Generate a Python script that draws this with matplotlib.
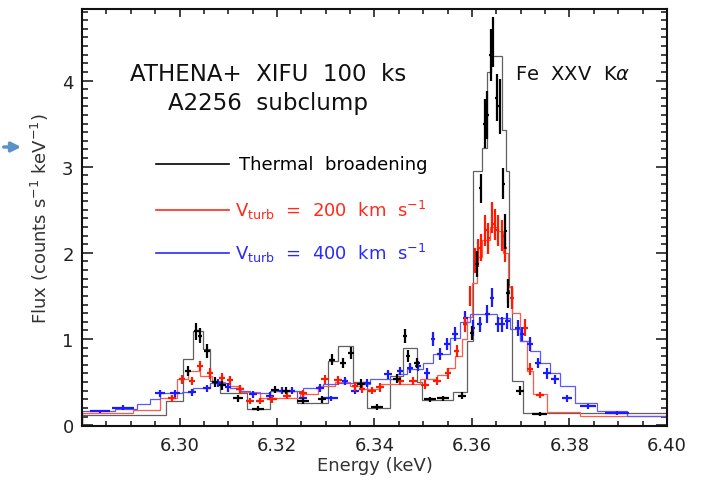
import matplotlib
matplotlib.use("Agg")
import matplotlib.pyplot as plt

plt.rcParams['font.family'] = ['DejaVu Sans']
plt.rcParams['mathtext.fontset'] = 'dejavusans'

# ---------------- model spectra (step histograms) ----------------
thermal_edges = [6.2800, 6.2972, 6.3007, 6.3028, 6.3048, 6.3063, 6.3083, 6.3138, 6.3186, 6.3241,
                 6.3305, 6.3325, 6.3356, 6.3385, 6.3432, 6.3458, 6.3487, 6.3497, 6.3561, 6.3590,
                 6.3602, 6.3621, 6.3631, 6.3639, 6.3662, 6.3670, 6.3676, 6.3682, 6.3705, 6.4000]
thermal_model = [0.12, 0.28, 0.77, 1.09, 0.88, 0.51, 0.37, 0.19, 0.40, 0.26,
                 0.74, 0.92, 0.50, 0.20, 0.57, 0.90, 0.50, 0.29, 0.38, 0.98,
                 2.95, 3.22, 4.10, 4.28, 3.42, 2.95, 1.60, 0.51, 0.14]

v200_edges = [6.2800, 6.2905, 6.2960, 6.2995, 6.3017, 6.3042, 6.3067, 6.3093, 6.3124, 6.3165,
              6.3247, 6.3284, 6.3319, 6.3350, 6.3374, 6.3411, 6.3493, 6.3528, 6.3549, 6.3565,
              6.3579, 6.3590, 6.3600, 6.3610, 6.3621, 6.3637, 6.3653, 6.3664, 6.3674, 6.3682,
              6.3698, 6.3713, 6.3725, 6.3754, 6.3822, 6.4000]
v200_model = [0.14, 0.18, 0.31, 0.53, 0.63, 0.57, 0.50, 0.45, 0.38, 0.31,
              0.36, 0.45, 0.50, 0.45, 0.42, 0.48, 0.53, 0.58, 0.66, 0.80,
              1.00, 1.25, 1.65, 1.95, 2.15, 2.30, 2.25, 2.00, 1.60, 1.30,
              0.98, 0.63, 0.36, 0.15, 0.11]

v400_edges = [6.2800, 6.2868, 6.2913, 6.2939, 6.2960, 6.3005, 6.3028, 6.3063, 6.3104, 6.3124,
              6.3145, 6.3186, 6.3253, 6.3294, 6.3323, 6.3364, 6.3391, 6.3446, 6.3467, 6.3499,
              6.3520, 6.3555, 6.3575, 6.3596, 6.3651, 6.3678, 6.3698, 6.3719, 6.3739, 6.3760,
              6.3781, 6.3811, 6.3856, 6.3918, 6.4000]
v400_model = [0.16, 0.19, 0.24, 0.30, 0.37, 0.39, 0.43, 0.49, 0.43, 0.40,
              0.37, 0.40, 0.43, 0.48, 0.49, 0.48, 0.53, 0.59, 0.65, 0.72,
              0.83, 1.01, 1.20, 1.29, 1.24, 1.12, 0.98, 0.86, 0.72, 0.60,
              0.45, 0.26, 0.16, 0.11]

# ---------------- simulated data points ----------------
thermal_x = [6.3017, 6.3034, 6.3042, 6.3056, 6.3072, 6.3088, 6.3120, 6.3161, 6.3196, 6.3218,
             6.3253, 6.3292, 6.3313, 6.3335, 6.3351, 6.3372, 6.3405, 6.3446, 6.3463, 6.3469,
             6.3487, 6.3514, 6.3541, 6.3579, 6.3600, 6.3610, 6.3618, 6.3626, 6.3631, 6.3638,
             6.3643, 6.3651, 6.3657, 6.3664, 6.3668, 6.3674, 6.3698, 6.3739]
thermal_xerr = [0.0006, 0.0005, 0.0004, 0.0006, 0.0006, 0.0008, 0.0010, 0.0012, 0.0008, 0.0008,
                0.0012, 0.0008, 0.0006, 0.0006, 0.0006, 0.0008, 0.0012, 0.0008, 0.0004, 0.0004,
                0.0006, 0.0012, 0.0012, 0.0008, 0.0004, 0.0004, 0.0003, 0.0003, 0.0003, 0.0003,
                0.0003, 0.0003, 0.0003, 0.0003, 0.0003, 0.0004, 0.0008, 0.0015]
thermal_y = [0.63, 1.09, 1.04, 0.86, 0.50, 0.46, 0.31, 0.19, 0.41, 0.40,
             0.28, 0.30, 0.76, 0.72, 0.84, 0.48, 0.21, 0.54, 1.03, 0.80,
             0.72, 0.30, 0.31, 0.34, 1.07, 1.87, 2.75, 3.50, 3.60, 4.30,
             4.45, 3.80, 3.70, 2.80, 2.25, 1.53, 0.40, 0.13]
thermal_yerr = [0.06, 0.10, 0.09, 0.08, 0.06, 0.05, 0.04, 0.03, 0.04, 0.04,
                0.03, 0.04, 0.06, 0.06, 0.07, 0.05, 0.03, 0.05, 0.08, 0.07,
                0.06, 0.03, 0.03, 0.04, 0.08, 0.15, 0.17, 0.28, 0.28, 0.30,
                0.29, 0.27, 0.32, 0.18, 0.20, 0.17, 0.05, 0.02]

v200_x = [6.2985, 6.3005, 6.3025, 6.3042, 6.3063, 6.3087, 6.3104, 6.3124, 6.3145, 6.3165,
          6.3190, 6.3221, 6.3253, 6.3298, 6.3325, 6.3360, 6.3374, 6.3395, 6.3411, 6.3452,
          6.3479, 6.3504, 6.3528, 6.3551, 6.3569, 6.3586, 6.3596, 6.3606, 6.3612, 6.3618,
          6.3627, 6.3633, 6.3641, 6.3647, 6.3653, 6.3662, 6.3668, 6.3674, 6.3682, 6.3709,
          6.3719, 6.3739]
v200_xerr = [0.0008, 0.0006, 0.0006, 0.0006, 0.0006, 0.0006, 0.0006, 0.0008, 0.0008, 0.0008,
             0.0010, 0.0008, 0.0008, 0.0008, 0.0008, 0.0006, 0.0006, 0.0008, 0.0008, 0.0008,
             0.0008, 0.0008, 0.0008, 0.0006, 0.0005, 0.0004, 0.0003, 0.0003, 0.0003, 0.0003,
             0.0003, 0.0003, 0.0003, 0.0003, 0.0003, 0.0003, 0.0003, 0.0003, 0.0004, 0.0005,
             0.0006, 0.0008]
v200_y = [0.31, 0.53, 0.51, 0.69, 0.60, 0.55, 0.52, 0.42, 0.28, 0.28,
          0.30, 0.34, 0.37, 0.53, 0.52, 0.45, 0.42, 0.40, 0.44, 0.51,
          0.51, 0.47, 0.51, 0.60, 0.86, 1.17, 1.50, 1.91, 2.00, 2.06,
          2.26, 2.17, 2.41, 2.33, 2.26, 2.20, 2.06, 1.56, 1.48, 1.13,
          0.65, 0.35]
v200_yerr = [0.04, 0.05, 0.05, 0.06, 0.06, 0.05, 0.05, 0.05, 0.04, 0.04,
             0.04, 0.04, 0.04, 0.05, 0.05, 0.05, 0.05, 0.04, 0.05, 0.05,
             0.05, 0.05, 0.05, 0.06, 0.07, 0.09, 0.12, 0.15, 0.16, 0.16,
             0.18, 0.18, 0.18, 0.18, 0.18, 0.18, 0.17, 0.14, 0.13, 0.10,
             0.07, 0.04]

v400_x = [6.2837, 6.2884, 6.2960, 6.2991, 6.3026, 6.3056, 6.3079, 6.3099, 6.3124, 6.3151,
          6.3186, 6.3210, 6.3231, 6.3253, 6.3288, 6.3310, 6.3339, 6.3360, 6.3385, 6.3428,
          6.3452, 6.3473, 6.3489, 6.3508, 6.3520, 6.3534, 6.3549, 6.3565, 6.3586, 6.3602,
          6.3616, 6.3631, 6.3641, 6.3653, 6.3662, 6.3672, 6.3694, 6.3703, 6.3719, 6.3735,
          6.3754, 6.3770, 6.3795, 6.3838, 6.3897]
v400_xerr = [0.0020, 0.0022, 0.0010, 0.0010, 0.0008, 0.0008, 0.0006, 0.0006, 0.0008, 0.0008,
             0.0008, 0.0006, 0.0006, 0.0008, 0.0008, 0.0015, 0.0006, 0.0008, 0.0008, 0.0008,
             0.0006, 0.0006, 0.0006, 0.0006, 0.0004, 0.0006, 0.0006, 0.0006, 0.0005, 0.0005,
             0.0005, 0.0005, 0.0004, 0.0005, 0.0005, 0.0005, 0.0005, 0.0005, 0.0006, 0.0006,
             0.0008, 0.0008, 0.0010, 0.0016, 0.0025]
v400_y = [0.16, 0.20, 0.37, 0.37, 0.38, 0.43, 0.49, 0.44, 0.42, 0.36,
          0.34, 0.40, 0.40, 0.31, 0.43, 0.31, 0.51, 0.40, 0.49, 0.59,
          0.63, 0.66, 0.69, 0.60, 1.00, 0.83, 0.94, 1.06, 1.24, 1.13,
          1.17, 1.29, 1.48, 1.17, 1.17, 1.21, 1.13, 1.06, 0.94, 0.72,
          0.60, 0.53, 0.31, 0.22, 0.14]
v400_yerr = [0.02, 0.03, 0.04, 0.04, 0.04, 0.04, 0.05, 0.05, 0.04, 0.04,
             0.04, 0.04, 0.04, 0.04, 0.05, 0.03, 0.05, 0.04, 0.05, 0.05,
             0.05, 0.06, 0.06, 0.06, 0.08, 0.07, 0.07, 0.08, 0.09, 0.09,
             0.09, 0.10, 0.11, 0.09, 0.09, 0.09, 0.09, 0.08, 0.08, 0.06,
             0.06, 0.05, 0.04, 0.03, 0.02]

legend_labels = ["Thermal  broadening",
                 r"V$_{\rm turb}$  =  200  km  s$^{-1}$",
                 r"V$_{\rm turb}$  =  400  km  s$^{-1}$"]

# ---------------- figure ----------------
fig = plt.figure(figsize=(7.04, 4.85), dpi=100)
ax = fig.add_axes([0.1165, 0.1196, 0.8309, 0.8598])

model_colors = ['#606060', '#ff5a4a', '#5a5aff']
point_colors = ['#000000', '#ff1a00', '#1a1aff']

ax.stairs(thermal_model, thermal_edges, color=model_colors[0], lw=0.9, zorder=2)
ax.stairs(v200_model, v200_edges, color=model_colors[1], lw=0.9, zorder=2)
ax.stairs(v400_model, v400_edges, color=model_colors[2], lw=0.9, zorder=2)

for xs, xe, ys, ye, c in [(v400_x, v400_xerr, v400_y, v400_yerr, point_colors[2]),
                          (v200_x, v200_xerr, v200_y, v200_yerr, point_colors[1]),
                          (thermal_x, thermal_xerr, thermal_y, thermal_yerr, point_colors[0])]:
    ax.errorbar(xs, ys, xerr=xe, yerr=ye, fmt='none', ecolor=c, elinewidth=1.6,
                capsize=0, zorder=3)

ax.set_xlim(6.28, 6.40)
ax.set_ylim(-0.01, 4.83)
ax.set_xticks([6.30, 6.32, 6.34, 6.36, 6.38, 6.40])
ax.set_xticklabels(["6.30", "6.32", "6.34", "6.36", "6.38", "6.40"])
ax.set_xticks([6.28 + 0.005 * i for i in range(25)], minor=True)
ax.set_yticks([0, 1, 2, 3, 4])
ax.set_yticks([0.1 * i for i in range(49)], minor=True)

ax.tick_params(axis='both', which='both', direction='in', top=True, right=True,
               labelsize=13, colors='#222222', width=1.2)
ax.tick_params(axis='x', which='major', length=6, pad=7)
ax.tick_params(axis='x', which='minor', length=3.5)
ax.tick_params(axis='y', which='major', length=8, pad=6)
ax.tick_params(axis='y', which='minor', length=4)
for s in ax.spines.values():
    s.set_linewidth(1.5)
    s.set_color('#111111')

ax.set_xlabel("Energy (keV)", fontsize=13, color='#333333', labelpad=2)
ax.set_ylabel(r"Flux (counts s$^{-1}$ keV$^{-1}$)", fontsize=13, color='#333333', labelpad=8)

# annotations
ax.text(6.3182, 4.08, "ATHENA+  XIFU  100  ks", fontsize=16.5, ha='center', va='center',
        color='#111111')
ax.text(6.3182, 3.74, "A2256  subclump", fontsize=16.5, ha='center', va='center',
        color='#111111')
ax.text(6.3807, 4.08, r"Fe  XXV  K$\alpha$", fontsize=14, ha='center', va='center',
        color='#111111')

# hand-drawn legend
leg_y = [3.03, 2.50, 2.00]
leg_colors = ['#000000', '#ff2a1a', '#2a2aff']
for yv, lab, c in zip(leg_y, legend_labels, leg_colors):
    ax.plot([6.2952, 6.3101], [yv, yv], color=c, lw=1.2)
    ax.text(6.3123 if c == '#000000' else 6.3113, yv, lab, fontsize=13,
            color=c, ha='left', va='center')

# pointer arrow in the left margin
fig.patches.append(matplotlib.patches.FancyArrowPatch(
    (1, 485 - 148), (24, 485 - 148), transform=None, arrowstyle='-|>',
    mutation_scale=14, color='#5b93c9', lw=2.5))

fig.savefig("out.png", dpi=100)
